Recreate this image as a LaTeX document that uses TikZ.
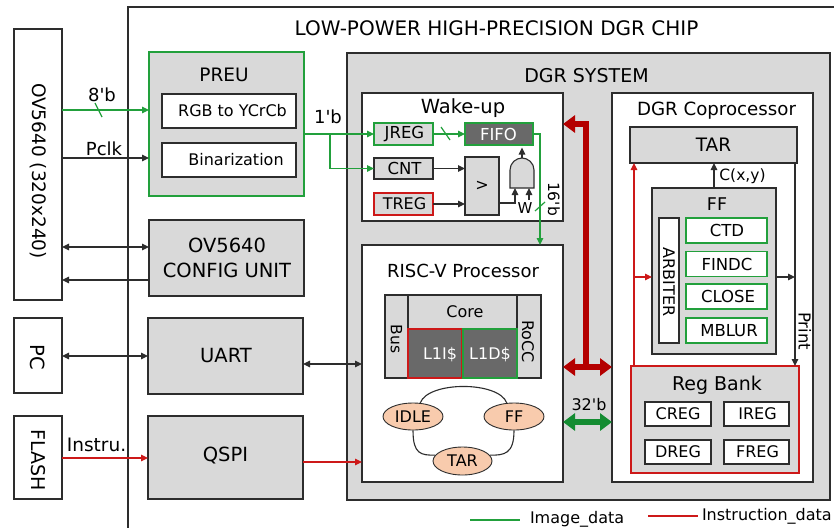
\documentclass[tikz,border=0pt]{standalone}
\usepackage{fontspec}
\setmainfont{DejaVu Sans}
\newfontfamily\plainf{DejaVu Sans}
\usetikzlibrary{arrows.meta,calc,shapes.geometric}
\definecolor{gfill}{RGB}{217,217,217}
\definecolor{grn}{RGB}{34,160,60}
\definecolor{dgrn}{RGB}{20,140,50}
\definecolor{rd}{RGB}{205,25,25}
\definecolor{drd}{RGB}{180,0,0}
\definecolor{dgray}{RGB}{105,105,105}
\definecolor{peach}{RGB}{248,203,173}
\definecolor{ln}{RGB}{45,45,45}
\newcommand\fsz[1]{\fontsize{#1}{#1}\selectfont}
\begin{document}
\begin{tikzpicture}[x=1pt,y=-1pt,
  bx/.style={draw=ln, line width=1.3pt, inner sep=0pt, outer sep=0pt},
  gbox/.style={bx, fill=gfill},
  wbox/.style={bx, fill=white},
  txt/.style={inner sep=0pt, outer sep=0pt, text=black},
  ar/.style={-{Triangle[length=7pt,width=6.5pt]}, line width=1.1pt},
  dar/.style={{Triangle[length=7pt,width=6.5pt]}-{Triangle[length=7pt,width=6.5pt]}, line width=1.1pt},
  big/.style={line width=6pt},
  bigtip/.tip={Triangle[length=12pt,width=17pt]},
  ell/.style={ellipse, draw=ln, line width=0.9pt, fill=peach, inner sep=0pt, minimum width=60, minimum height=27},
  ]
\useasboundingbox (0,0) rectangle (834,528);
\fill[white] (0,0) rectangle (834,528);

% chip outline
\draw[ln, line width=1.3pt] (834,7) -- (128,7) -- (128,528);
\node[txt, font=\fsz{20}] (title) at (496.5,28.5) {LOW-POWER HIGH-PRECISION DGR CHIP};

% external blocks
\node[wbox, minimum width=48, minimum height=271] (ov) at (38,164.5) {};
\node[txt, rotate=-90, font=\fsz{18.5}] (ovt) at (38,171) {OV5640 (320x240)};
\node[wbox, minimum width=48, minimum height=75] (pc) at (38,355.5) {};
\node[txt, rotate=-90, font=\fsz{19.5}] (pct) at (38,357) {PC};
\node[wbox, minimum width=48, minimum height=83] (flash) at (38,457.5) {};
\node[txt, rotate=-90, font=\fsz{19}] (flt) at (38,460.5) {FLASH};

% PREU
\node[gbox, draw=grn, minimum width=155, minimum height=144] (preu) at (226.5,124) {};
\node[txt, font=\fsz{18.5}] (preut) at (224,75) {PREU};
\node[wbox, minimum width=134, minimum height=34] (rgb) at (229,111) {};
\node[txt, font=\fsz{16}] (rgbt) at (232.5,111) {RGB to YCrCb};
\node[wbox, minimum width=134, minimum height=34] (bin) at (229,160) {};
\node[txt, font=\fsz{16}] (bint) at (236,160) {Binarization};

% config / uart / qspi
\node[gbox, minimum width=155, minimum height=76] (cfg) at (226.5,258) {};
\node[txt, font=\fontsize{19.5}{25}\selectfont, align=center] (cfgt) at (227,258) {OV5640\\CONFIG UNIT};
\node[gbox, minimum width=155, minimum height=76] (uart) at (225.5,356) {};
\node[txt, font=\fsz{19.5}] (uartt) at (226,355.7) {UART};
\node[gbox, minimum width=155, minimum height=83] (qspi) at (225.5,457.5) {};
\node[txt, font=\fsz{19.5}] (qspit) at (225.5,455.7) {QSPI};

% external connectors
\coordinate (y8) at (0,110);
\coordinate (ypc) at (0,158);
\coordinate (ycf1) at (0,247);
\coordinate (ycf2) at (0,280);
\coordinate (yuart) at (0,356);
\coordinate (yur) at (0,364);
\coordinate (yfl) at (0,458);
\coordinate (yq) at (0,462);
\draw[grn, ar] (ov.east |- y8) -- (preu.west |- y8);
\draw[grn, line width=1.2pt] (95,103) -- (102,117);
\node[txt, font=\plainf\fsz{18}] (l8b) at (102,95) {8'b};
\draw[ln, ar] (ov.east |- ypc) -- (preu.west |- ypc);
\node[txt, font=\fsz{18}] (lpclk) at (104,149) {Pclk};
\draw[ln, dar] (ov.east |- ycf1) -- (cfg.west |- ycf1);
\draw[ln, ar] (cfg.west |- ycf2) -- (ov.east |- ycf2);
\draw[ln, dar] (pc.east |- yuart) -- (uart.west |- yuart);
\draw[rd, ar] (flash.east |- yfl) -- (qspi.west |- yfl);
\node[txt, font=\fsz{18.5}] (linstr) at (96.5,445) {Instru.};

% DGR system
\node[gbox, minimum width=483, minimum height=447] (dgr) at (588.5,276.5) {};
\node[txt, font=\fsz{19}] (dgrt) at (586.5,75.5) {DGR SYSTEM};

% Wake-up
\node[wbox, minimum width=201, minimum height=128] (wake) at (462.5,157) {};
\node[txt, font=\fsz{19.5}, anchor=base] (waket) at (463,113) {Wake-up};
\node[gbox, draw=grn, minimum width=59, minimum height=22] (jreg) at (403.5,134) {};
\node[txt, font=\fsz{16.5}] (jregt) at (404.5,134) {JREG};
\node[bx, fill=dgray, draw=grn, minimum width=68, minimum height=22] (fifo) at (499,134) {};
\node[txt, font=\fsz{16.5}, text=white] (fifot) at (498.5,134) {FIFO};
\node[gbox, minimum width=59, minimum height=21] (cnt) at (403.5,168.5) {};
\node[txt, font=\fsz{16.5}] (cntt) at (404.5,168.5) {CNT};
\node[gbox, draw=rd, minimum width=59, minimum height=22] (treg) at (403.5,204) {};
\node[txt, font=\fsz{16}] (tregt) at (404.5,204) {TREG};
\node[gbox, minimum width=34, minimum height=58] (cmp) at (482,186) {};
\node[txt, font=\fsz{16}] (cmpt) at (482,186) {>};
\draw[ln, line width=1.1pt, fill=gfill] (510,188) -- (510,170) .. controls (510,163) and (516,158) .. (522,158) .. controls (528,158) and (534,163) .. (534,170) -- (534,188) -- cycle;
\coordinate (gin1) at (515,188);
\coordinate (gin2) at (529,188);
\coordinate (gout) at (522,158);
\coordinate (gtip) at (522,147.5);
\coordinate (wtail) at (529,200);
\draw[ln, ar] (gout) -- (gtip);
\draw[ln, ar] ($(cmp.south east)+(0,-12)$) -| (gin1);
\draw[ln, ar] (wtail) -- (gin2);
\node[txt, font=\fsz{15}] (wt) at (525,208) {W};
\draw[grn, ar] (jreg.east) -- (fifo.west);
\draw[grn, line width=1.2pt] (441,127) -- (450,140);
\draw[ln, ar] (cnt.east) -- (cnt.east -| cmp.west);
\draw[ln, ar] (treg.east) -- (treg.east -| cmp.west);

% RISC-V
\node[wbox, minimum width=201, minimum height=237] (risc) at (462.5,363.5) {};
\node[txt, font=\fsz{18}, anchor=base] (risct) at (463,277) {RISC-V Processor};
\node[gbox, minimum width=23, minimum height=83] (bus) at (396.5,336.5) {};
\node[txt, rotate=-90, font=\fsz{15.5}] (bust) at (396.5,339) {Bus};
\node[gbox, minimum width=109, minimum height=34] (core) at (462.5,312) {};
\node[txt, font=\fsz{16}] (coret) at (465,312) {Core};
\node[gbox, minimum width=24, minimum height=83] (rocc) at (529,336.5) {};
\node[txt, rotate=-90, font=\fsz{16}] (rocct) at (528,341.5) {RoCC};
\node[bx, fill=dgray, draw=rd, minimum width=54, minimum height=49] (l1i) at (435,353.5) {};
\node[txt, font=\fsz{16}, text=white] (l1it) at (440,355) {L1I\$};
\node[bx, fill=dgray, draw=grn, minimum width=54, minimum height=49] (l1d) at (490,353.5) {};
\node[txt, font=\fsz{16}, text=white] (l1dt) at (490,355) {L1D\$};
\node[ell] (idle) at (413,416.5) {\fsz{16}IDLE};
\node[ell] (ffs) at (514,416.5) {\fsz{16}FF};
\node[ell, minimum width=59, minimum height=28] (tars) at (462.5,461) {\fsz{16}TAR};
\draw[ln, line width=1.1pt] (idle.62) .. controls +(8,-22) and +(-8,-22) .. (ffs.118);
\draw[ln, line width=1.1pt] (idle.south) .. controls +(0,24) and +(-14,0) .. (tars.168);
\draw[ln, line width=1.1pt] (ffs.south) .. controls +(0,24) and +(14,0) .. (tars.12);
\draw[ln, dar] (uart.east |- yur) -- (risc.west |- yur);
\draw[rd, ar] (qspi.east |- yq) -- (risc.west |- yq);

% 1'b and FIFO links
\coordinate (bj) at (330,134);
\coordinate (fx) at (540,134);
\draw[grn, ar] (preu.east |- bj) -- (bj) -- (jreg.west);
\draw[grn, ar] (bj) |- (cnt.west);
\node[txt, font=\plainf\fsz{18}] (l1b) at (328,117) {1'b};
\draw[grn, ar] (fifo.east) -- (fx) -- (fx |- risc.north);
\draw[grn, line width=1.2pt] (535,211) -- (545,202);
\node[txt, rotate=-90, font=\plainf\fsz{15.5}] (l16b) at (554,199) {16'b};

% Coprocessor
\node[wbox, minimum width=201, minimum height=389] (cop) at (712.5,287.5) {};
\node[txt, font=\fsz{18.2}, anchor=base] (copt) at (716.5,115) {DGR Coprocessor};
\node[gbox, minimum width=167, minimum height=36] (tar) at (713.5,145) {};
\node[txt, font=\fsz{18.5}] (tart) at (713.5,145) {TAR};
\node[gbox, minimum width=124, minimum height=166] (ff) at (714,271) {};
\node[txt, font=\fsz{17.5}] (fft) at (717,204) {FF};
\node[wbox, minimum width=20, minimum height=125] (arb) at (669,280.5) {};
\node[txt, rotate=-90, font=\fsz{16}] (arbt) at (669,282) {ARBITER};
\node[wbox, draw=grn, minimum width=81, minimum height=25] (ctd) at (726.5,230.5) {};
\node[txt, font=\fsz{16.5}] (ctdt) at (727,230.5) {CTD};
\node[wbox, draw=grn, minimum width=81, minimum height=25] (findc) at (726.5,264) {};
\node[txt, font=\fsz{16.5}] (findct) at (727,264) {FINDC};
\node[wbox, draw=grn, minimum width=81, minimum height=25] (close) at (726.5,296.5) {};
\node[txt, font=\fsz{16.5}] (closet) at (728,296.5) {CLOSE};
\node[wbox, draw=grn, minimum width=81, minimum height=25] (mblur) at (726.5,330.5) {};
\node[txt, font=\fsz{16.5}] (mblurt) at (729,330.5) {MBLUR};
\node[gbox, draw=rd, minimum width=168, minimum height=107] (regb) at (715,419.5) {};
\node[txt, font=\fsz{19}, anchor=base] (regbt) at (717,390) {Reg Bank};
\node[wbox, minimum width=66, minimum height=24] (creg) at (678,414) {};
\node[txt, font=\fsz{16}] (cregt) at (678,414) {CREG};
\node[wbox, minimum width=65, minimum height=24] (ireg) at (756.5,414) {};
\node[txt, font=\fsz{16}] (iregt) at (757.5,414) {IREG};
\node[wbox, minimum width=66, minimum height=24] (dreg) at (678,452) {};
\node[txt, font=\fsz{16}] (dregt) at (678,452) {DREG};
\node[wbox, minimum width=65, minimum height=24] (freg) at (756.5,452) {};
\node[txt, font=\fsz{16}] (fregt) at (757.5,452) {FREG};

\coordinate (rl) at (634,277);
\coordinate (pr) at (795,277);
\draw[rd, ar] (regb.north -| rl) -- (tar.south -| rl);
\draw[rd, ar] (rl) -- (ff.west |- rl);
\draw[ln, ar] (tar.south -| pr) -- (regb.north -| pr);
\draw[ln, ar] (ff.east |- pr) -- (pr);
\node[txt, rotate=-90, font=\fsz{16.5}] (prt) at (805,331) {Print};
\draw[ln, ar] (ff.north) -- (ff.north |- tar.south);
\node[txt, font=\fsz{15.5}] (cxy) at (742.5,176.5) {C(x,y)};

% system buses
\coordinate (rtop) at (586,124);
\coordinate (rbot) at (586,367);
\coordinate (gbus) at (586,422);
\draw[drd, big, line join=miter, -{bigtip}] (rbot) -- (rtop) -- (wake.east |- rtop);
\draw[drd, big, {bigtip}-{bigtip}] (risc.east |- rbot) -- (cop.west |- rbot);
\draw[dgrn, big, {bigtip}-{bigtip}] (risc.east |- gbus) -- (cop.west |- gbus);
\node[txt, font=\plainf\fsz{16}] (l32b) at (589,404.5) {32'b};

% legend
\node[txt, font=\fsz{16}, anchor=base west] (leg1) at (530,523) {Image\_data};
\node[txt, font=\fsz{16}, anchor=base west] (leg2) at (702,520) {Instruction\_data};
\draw[color=grn, line width=1.8pt] (470,520) -- (520,520);
\draw[color=rd, line width=1.6pt] (648,516) -- (698,516);
\end{tikzpicture}
\end{document}
